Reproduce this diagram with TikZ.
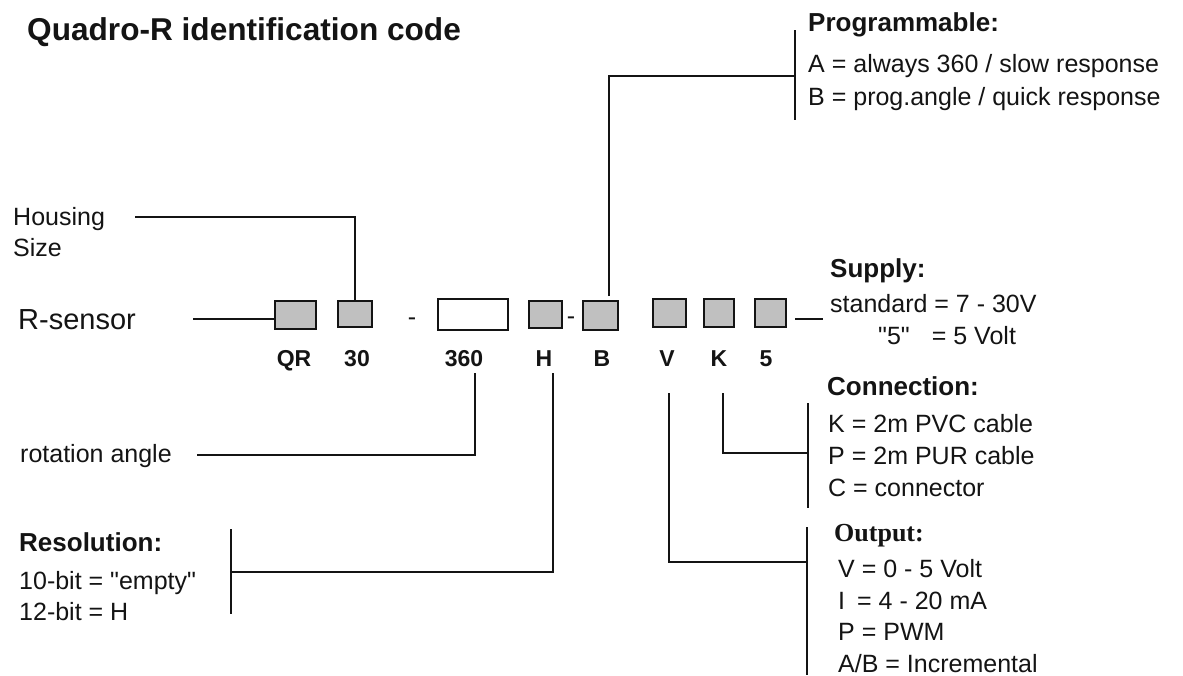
\documentclass[tikz,border=0pt]{standalone}
\usepackage{fontspec}
\setmainfont{Liberation Sans}
\newfontfamily\outfont{Liberation Serif}
\definecolor{boxgray}{RGB}{192,192,192}
\definecolor{inkc}{RGB}{20,20,20}
\tikzset{
  txt/.style={font=\fontsize{25}{30}\selectfont, inner sep=0pt, anchor=base west, text=inkc},
  head/.style={font=\fontsize{26}{30}\selectfont\bfseries, inner sep=0pt, anchor=base west, text=inkc},
  codelbl/.style={font=\fontsize{23}{28}\selectfont\bfseries, inner sep=0pt, anchor=base, text=inkc},
  gbox/.style={draw=inkc, fill=boxgray, line width=1.6pt, inner sep=0pt},
  wbox/.style={draw=inkc, fill=white, line width=1.6pt, inner sep=0pt},
  wire/.style={draw=inkc, line width=1.6pt},
  dashtxt/.style={font=\fontsize{25}{30}\selectfont, inner sep=0pt, text=inkc}
}
\begin{document}
\begin{tikzpicture}[x=1pt,y=-1pt]
\useasboundingbox[fill=white] (0,0) rectangle (1183,675);

% title
\node[font=\fontsize{31.6}{36}\selectfont\bfseries, inner sep=0pt, anchor=base west, text=inkc] (title) at (27,40) {Quadro-R identification code};

% code boxes
\node[gbox, minimum width=41pt, minimum height=28pt] (bqr) at (295.5,315) {};
\node[gbox, minimum width=34pt, minimum height=26pt] (b30) at (355,314) {};
\node[wbox, minimum width=70pt, minimum height=31pt] (b360) at (473,314.5) {};
\node[gbox, minimum width=33pt, minimum height=27pt] (bh) at (545.5,314.5) {};
\node[gbox, minimum width=35pt, minimum height=29pt] (bb) at (600.5,315.5) {};
\node[gbox, minimum width=33pt, minimum height=28pt] (bv) at (669.5,313) {};
\node[gbox, minimum width=30pt, minimum height=28pt] (bk) at (719,313) {};
\node[gbox, minimum width=31pt, minimum height=28pt] (b5) at (770.5,313) {};

\node[dashtxt] (d1) at (412,322) {-};
\node[dashtxt] (d2) at (571,321) {-};

% code labels
\node[codelbl] (lqr) at (294,366) {QR};
\node[codelbl] (l30) at (357,366) {30};
\node[codelbl] (l360) at (464,366) {360};
\node[codelbl] (lh) at (544,366) {H};
\node[codelbl] (lb) at (602,366) {B};
\node[codelbl] (lv) at (667,366) {V};
\node[codelbl] (lk) at (719,366) {K};
\node[codelbl] (l5) at (766,366) {5};

% R-sensor
\node[font=\fontsize{29}{34}\selectfont, inner sep=0pt, anchor=base west, text=inkc] (rs) at (18,329.5) {R-sensor};
\coordinate (rsA) at (193,319);
\draw[wire] (rsA) -- (rsA -| bqr.west);

% Housing size
\node[txt] (hs1) at (13,225) {Housing};
\node[txt] (hs2) at (13,256) {Size};
\coordinate (hsA) at (135,217);
\draw[wire] (hsA) -| (b30.north);

% rotation angle
\node[txt] (ra) at (20,462) {rotation angle};
\coordinate (raA) at (197,455);
\coordinate (raT) at (475,373);
\draw[wire] (raA) -| (raT);

% Resolution
\node[head] (resh) at (19,551) {Resolution:};
\node[txt] (res1) at (19,589) {10-bit = \textquotedbl empty\textquotedbl};
\node[txt] (res2) at (19,620) {12-bit = H};
\coordinate (resT) at (231,529);
\coordinate (resB) at (231,614);
\coordinate (resM) at (231,572);
\coordinate (hT) at (553,373);
\draw[wire] (resT) -- (resB);
\draw[wire] (resM) -| (hT);

% Programmable
\node[head] (progh) at (808,31) {Programmable:};
\node[txt] (prog1) at (808,72) {A = always 360 / slow response};
\node[txt] (prog2) at (808,105) {B = prog.angle / quick response};
\coordinate (pT) at (795,30);
\coordinate (pB) at (795,120);
\coordinate (pM) at (795,76);
\coordinate (bT) at (609,296);
\draw[wire] (pT) -- (pB);
\draw[wire] (bT) |- (pM);

% Supply
\node[head] (suph) at (830,277) {Supply:};
\node[txt] (sup1) at (830,312) {standard = 7 - 30V};
\node[txt] (sup2) at (878,344) {\textquotedbl 5\textquotedbl\hspace{22pt}= 5 Volt};
\coordinate (sA) at (795,319);
\coordinate (sB) at (823,319);
\draw[wire] (sA) -- (sB);

% Connection
\node[head] (conh) at (827,395) {Connection:};
\node[txt] (con1) at (828,432) {K = 2m PVC cable};
\node[txt] (con2) at (828,464) {P = 2m PUR cable};
\node[txt] (con3) at (828,496) {C = connector};
\coordinate (cT) at (808,403);
\coordinate (cB) at (808,508);
\coordinate (cM) at (808,453);
\coordinate (kT) at (723,393);
\draw[wire] (cT) -- (cB);
\draw[wire] (kT) |- (cM);

% Output
\node[font=\fontsize{26}{30}\selectfont\outfont\bfseries, inner sep=0pt, anchor=base west, text=inkc] (outh) at (834,541) {Output:};
\node[txt] (out1) at (838,577) {V = 0 - 5 Volt};
\node[txt] (out2) at (838,609) {I\hspace{12pt}= 4 - 20 mA};
\node[txt] (out3) at (838,640) {P = PWM};
\node[txt] (out4) at (838,672) {A/B = Incremental};
\coordinate (oT) at (807,527);
\coordinate (oB) at (807,675);
\coordinate (oM) at (807,562);
\coordinate (vT) at (669,393);
\draw[wire] (oT) -- (oB);
\draw[wire] (vT) |- (oM);
\end{tikzpicture}
\end{document}
